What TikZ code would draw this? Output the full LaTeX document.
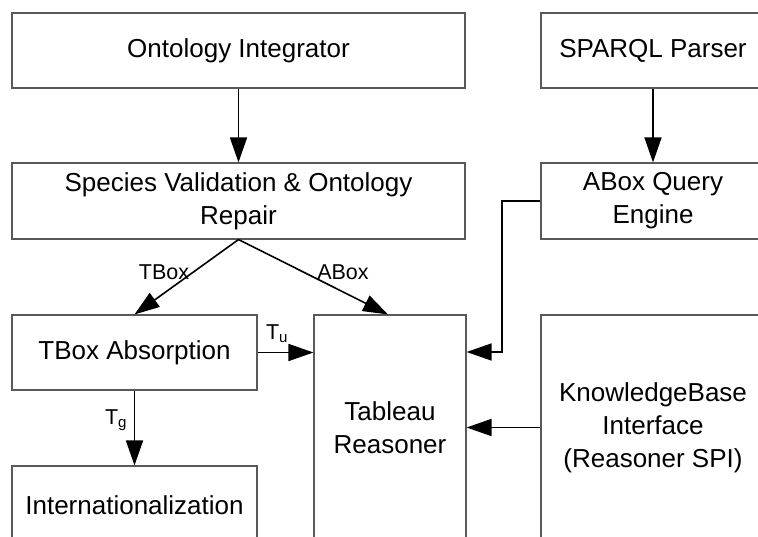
\documentclass[tikz,border=0pt]{standalone}
\usepackage{fontspec}
\setmainfont{Liberation Sans}
\usetikzlibrary{arrows.meta,calc}
\begin{document}
\begin{tikzpicture}[x=1pt,y=-1pt,
  box/.style={draw=black!65, line width=1.1pt, fill=white, inner sep=0pt, align=center,
    font=\fontsize{26}{33}\selectfont},
  conn/.style={line width=1.6pt, -{Triangle[length=25pt,width=17pt]}},
  lab/.style={font=\fontsize{21.5}{25}\selectfont, inner sep=0pt}]
\useasboundingbox (0,0) rectangle (758,537);
\clip (0,0) rectangle (758,537);
% boxes
\node[box, minimum width=453pt, minimum height=75pt] (oi) at (238.5,50.5) {Ontology Integrator};
\node[box, minimum width=224pt, minimum height=75pt] (sp) at (653,50.5) {SPARQL Parser};
\node[box, minimum width=453pt, minimum height=76pt] (sv) at (238.5,201) {Species Validation \& Ontology\\Repair};
\node[box, minimum width=224pt, minimum height=76pt] (aq) at (653,201) {ABox Query\\Engine};
\node[box, minimum width=245pt, minimum height=75pt] (ta) at (134.5,352.5) {TBox Absorption};
\node[box, minimum width=152pt, minimum height=225pt] (tr) at (390,427.5) {Tableau\\Reasoner};
\node[box, minimum width=224pt, minimum height=225pt] (kb) at (653,427.5) {KnowledgeBase\\Interface\\(Reasoner SPI)};
\node[box, minimum width=245pt, minimum height=78pt] (in) at (134.5,505) {Internationalization};
% connectors
\draw[conn] (oi.south) -- (sv.north);
\draw[conn] (sp.south) -- (aq.north);
\draw[conn] (sv.south) -- (ta.north);
\draw[conn] (sv.south) -- ($(tr.north)+(-2,0)$);
\draw[conn] (ta.east) -- (ta.east -| tr.west);
\draw[conn] (ta.south) -- (in.north);
\coordinate (j) at (502,352);
\draw[conn] (aq.west) -| (j) -- (j -| tr.east);
\draw[conn] (kb.west) -- (tr.east |- kb.west);
% labels
\node[lab] (ltbox) at (164,272) {TBox};
\node[lab] (labox) at (343,272) {ABox};
\node[lab] (ltu) at (277,334) {T\textsubscript{u}};
\node[lab] (ltg) at (116,420) {T\textsubscript{g}};
\end{tikzpicture}
\end{document}
